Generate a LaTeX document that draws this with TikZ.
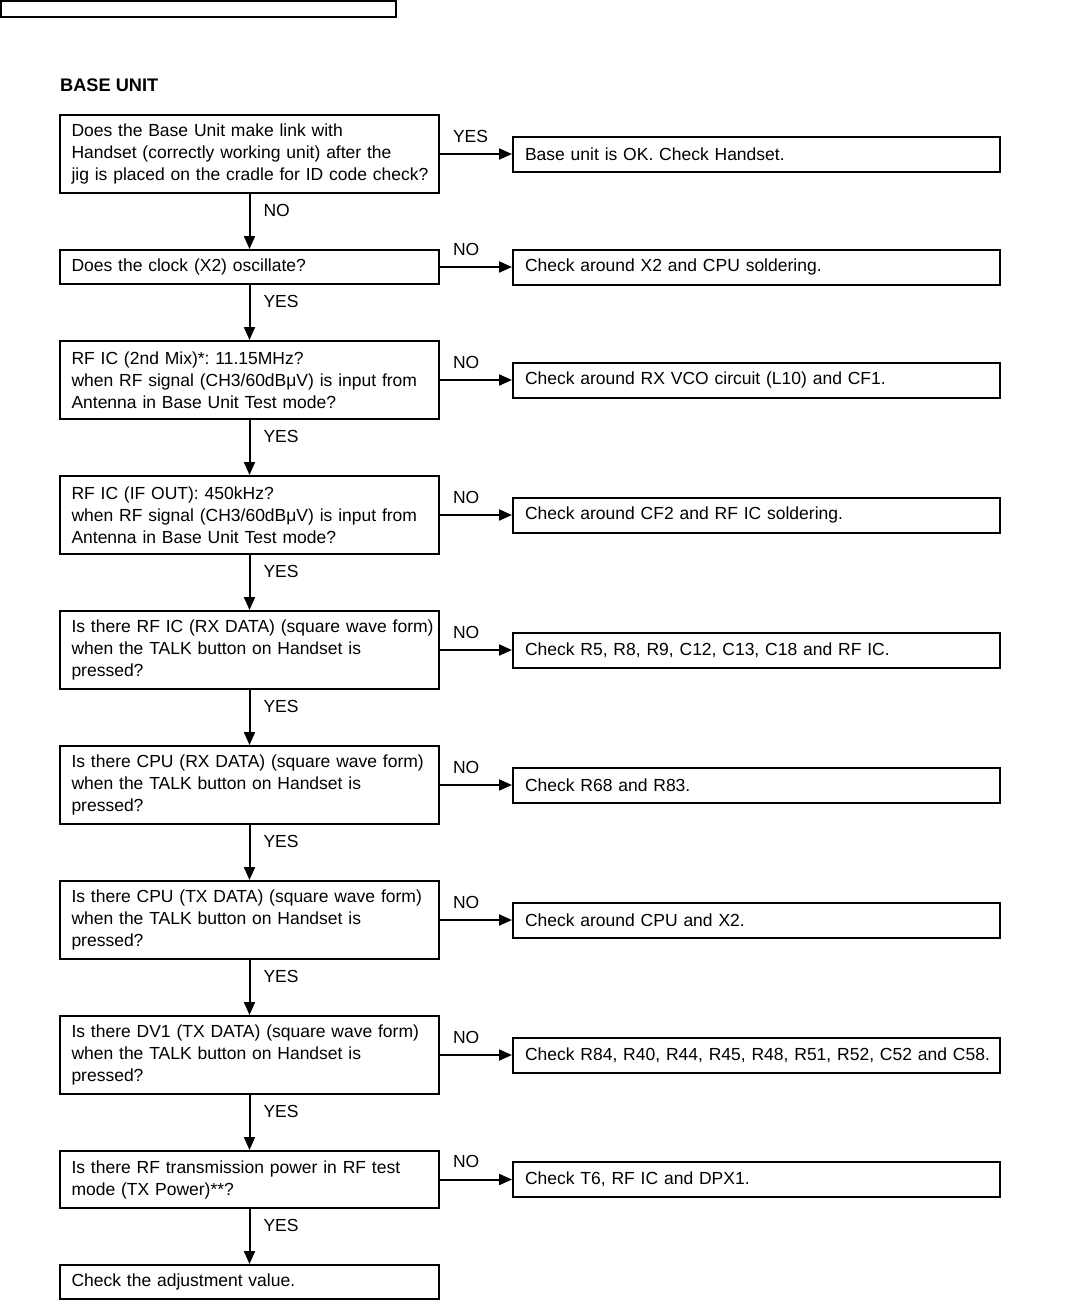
\documentclass[tikz,border=0pt]{standalone}
\usepackage{fontspec}
\setmainfont{Liberation Sans}
\usetikzlibrary{positioning,arrows.meta}

\begin{document}
\begin{tikzpicture}[
  x=1pt, y=1pt,
  node distance=55pt and 72pt,
  box/.style={draw, line width=2pt, align=left, inner ysep=0pt, font=\fontsize{17.5pt}{22pt}\selectfont\frenchspacing},
  ask/.style={box, text width=356pt, inner xsep=11.5pt, minimum height=#1},
  ask/.default=78pt,
  fix/.style={box, text width=463pt, inner xsep=12pt, minimum height=35pt},
  arr/.style={-{Triangle[length=13pt,width=11pt]}, line width=2pt},
  lbl/.style={font=\fontsize{17.5pt}{22pt}\selectfont, inner sep=0pt},
  yes/.style={lbl, pos=0, anchor=base west, xshift=13pt, yshift=-22pt},
  side/.style={lbl, pos=0, anchor=base west, xshift=12pt, yshift=12pt}
]
\useasboundingbox (0,0) rectangle (1085,-1302);
\draw[line width=2pt] (1,-1) rectangle (396,-17);
\node[lbl, anchor=base west, font=\fontsize{18.2pt}{22pt}\selectfont\bfseries] (title) at (60,-91) {BASE UNIT};

% questions
\node[ask, anchor=north west] (q1) at (59,-114) {Does the Base Unit make link with\\Handset (correctly working unit) after the\\\mbox{jig is placed on the cradle for ID code check?}};
\node[ask=34pt, below=of q1] (q2) {Does the clock (X2) oscillate?};
\node[ask, below=of q2] (q3) {RF IC (2nd Mix)*: 11.15MHz?\\when RF signal (CH3/60dBμV) is input from\\Antenna in Base Unit Test mode?};
\node[ask, below=of q3] (q4) {RF IC (IF OUT): 450kHz?\\when RF signal (CH3/60dBμV) is input from\\Antenna in Base Unit Test mode?};
\node[ask, below=of q4] (q5) {\mbox{Is there RF IC (RX DATA) (square wave form)}\\when the TALK button on Handset is\\pressed?};
\node[ask, below=of q5] (q6) {Is there CPU (RX DATA) (square wave form)\\when the TALK button on Handset is\\pressed?};
\node[ask, below=of q6] (q7) {Is there CPU (TX DATA) (square wave form)\\when the TALK button on Handset is\\pressed?};
\node[ask, below=of q7] (q8) {Is there DV1 (TX DATA) (square wave form)\\when the TALK button on Handset is\\pressed?};
\node[ask=57pt, below=of q8] (q9) {Is there RF transmission power in RF test\\mode (TX Power)**?};
\node[ask=34pt, below=of q9] (done) {Check the adjustment value.};

% remedies
\node[fix, right=of q1] (f1) {Base unit is OK. Check Handset.};
\node[fix, right=of q2] (f2) {Check around X2 and CPU soldering.};
\node[fix, right=of q3] (f3) {Check around RX VCO circuit (L10) and CF1.};
\node[fix, right=of q4] (f4) {Check around CF2 and RF IC soldering.};
\node[fix, right=of q5] (f5) {Check R5, R8, R9, C12, C13, C18 and RF IC.};
\node[fix, right=of q6] (f6) {Check R68 and R83.};
\node[fix, right=of q7] (f7) {Check around CPU and X2.};
\node[fix, right=of q8] (f8) {\mbox{Check R84, R40, R44, R45, R48, R51, R52, C52 and C58.}};
\node[fix, right=of q9] (f9) {Check T6, RF IC and DPX1.};

\draw[arr] (q1) -- node[yes] {NO} (q2);
\draw[arr] (q2) -- node[yes] {YES} (q3);
\draw[arr] (q3) -- node[yes] {YES} (q4);
\draw[arr] (q4) -- node[yes] {YES} (q5);
\draw[arr] (q5) -- node[yes] {YES} (q6);
\draw[arr] (q6) -- node[yes] {YES} (q7);
\draw[arr] (q7) -- node[yes] {YES} (q8);
\draw[arr] (q8) -- node[yes] {YES} (q9);
\draw[arr] (q9) -- node[yes] {YES} (done);

\draw[arr] (q1) -- node[side] {YES} (f1);
\draw[arr] (q2) -- node[side] {NO} (f2);
\draw[arr] (q3) -- node[side] {NO} (f3);
\draw[arr] (q4) -- node[side] {NO} (f4);
\draw[arr] (q5) -- node[side] {NO} (f5);
\draw[arr] (q6) -- node[side] {NO} (f6);
\draw[arr] (q7) -- node[side] {NO} (f7);
\draw[arr] (q8) -- node[side] {NO} (f8);
\draw[arr] (q9) -- node[side] {NO} (f9);
\end{tikzpicture}
\end{document}
